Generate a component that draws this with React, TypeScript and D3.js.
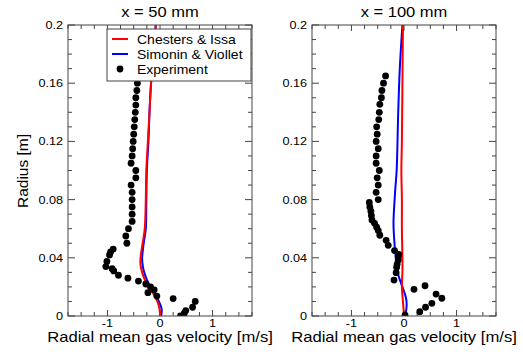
import React from "react";
import * as d3 from "d3";

// ---- data ----
const titles = ["x = 50 mm", "x = 100 mm"];
const xTickLabels = [-1, 0, 1];
const yTickLabels = [0, 0.04, 0.08, 0.12, 0.16, 0.2];
const legendLabels = ["Chesters & Issa", "Simonin & Viollet", "Experiment"];

// left panel (x = 50 mm): [velocity, radius]
const exp50: [number, number][] = [
  [-0.43, 0.160], [-0.44, 0.155], [-0.46, 0.150], [-0.46, 0.145], [-0.47, 0.140],
  [-0.48, 0.135], [-0.49, 0.130], [-0.50, 0.125], [-0.51, 0.120], [-0.52, 0.115],
  [-0.53, 0.110], [-0.55, 0.105], [-0.46, 0.100], [-0.46, 0.095], [-0.55, 0.090],
  [-0.53, 0.085], [-0.53, 0.080], [-0.53, 0.075], [-0.53, 0.070], [-0.53, 0.065],
  [-0.60, 0.060], [-0.65, 0.055], [-0.63, 0.050], [-0.89, 0.046], [-0.94, 0.044],
  [-0.96, 0.042], [-1.01, 0.0375], [-1.03, 0.034], [-0.91, 0.0325], [-0.88, 0.031],
  [-0.79, 0.028], [-0.61, 0.026], [-0.41, 0.024], [-0.27, 0.022], [-0.18, 0.020],
  [-0.11, 0.018], [-0.23, 0.016], [-0.06, 0.0137], [0.25, 0.012], [0.67, 0.010],
  [0.62, 0.006], [0.49, 0.0037], [0.46, 0.0018], [0.39, 0.0],
];
const chesters50: [number, number][] = [
  [-0.08, 0.2], [-0.17, 0.16], [-0.20, 0.14], [-0.23, 0.12], [-0.26, 0.10],
  [-0.27, 0.08], [-0.29, 0.06], [-0.33, 0.05], [-0.37, 0.04], [-0.37, 0.035],
  [-0.34, 0.03], [-0.29, 0.025], [-0.22, 0.02], [-0.12, 0.015], [-0.05, 0.01],
  [-0.01, 0.005], [0.0, 0.002], [0.0, 0.0],
];
const simonin50: [number, number][] = [
  [-0.08, 0.2], [-0.17, 0.16], [-0.20, 0.14], [-0.22, 0.12], [-0.25, 0.10],
  [-0.26, 0.08], [-0.27, 0.06], [-0.31, 0.05], [-0.34, 0.04], [-0.33, 0.035],
  [-0.30, 0.03], [-0.25, 0.025], [-0.18, 0.02], [-0.09, 0.015], [-0.02, 0.01],
  [0.03, 0.005], [0.03, 0.002], [0.02, 0.0],
];

// right panel (x = 100 mm)
const exp100: [number, number][] = [
  [-0.35, 0.165], [-0.39, 0.160], [-0.42, 0.155], [-0.43, 0.150], [-0.46, 0.1455],
  [-0.47, 0.140], [-0.48, 0.135], [-0.52, 0.130], [-0.51, 0.125], [-0.53, 0.120],
  [-0.49, 0.115], [-0.53, 0.110], [-0.53, 0.105], [-0.47, 0.100], [-0.51, 0.095],
  [-0.49, 0.090], [-0.53, 0.085], [-0.49, 0.080], [-0.66, 0.078], [-0.65, 0.075],
  [-0.63, 0.072], [-0.62, 0.069], [-0.61, 0.066], [-0.56, 0.0637], [-0.52, 0.061],
  [-0.49, 0.0587], [-0.46, 0.0555], [-0.34, 0.052], [-0.30, 0.0486], [-0.18, 0.045],
  [-0.10, 0.0424], [-0.11, 0.0408], [-0.11, 0.0385], [-0.13, 0.0357], [-0.14, 0.0335],
  [-0.15, 0.0298], [-0.19, 0.0247], [0.19, 0.0183], [0.40, 0.0208], [0.61, 0.0151],
  [0.72, 0.0122], [0.53, 0.0087], [0.41, 0.006], [0.30, 0.003], [0.02, 0.0005],
];
const chesters100: [number, number][] = [
  [-0.02, 0.2], [-0.03, 0.16], [-0.04, 0.12], [-0.05, 0.10], [-0.04, 0.08],
  [-0.04, 0.06], [-0.03, 0.04], [-0.03, 0.03], [-0.04, 0.02], [-0.02, 0.01],
  [-0.01, 0.005], [0.0, 0.0],
];
const simonin100: [number, number][] = [
  [-0.03, 0.2], [-0.08, 0.17], [-0.11, 0.14], [-0.14, 0.10], [-0.17, 0.085],
  [-0.20, 0.064], [-0.19, 0.055], [-0.17, 0.045], [-0.12, 0.03], [-0.08, 0.025],
  [-0.02, 0.019], [0.04, 0.012], [0.05, 0.007], [0.03, 0.002], [0.0, 0.0],
];

const panels = [
  { title: titles[0], exp: exp50, ci: chesters50, sv: simonin50, x0: 68, legend: true },
  { title: titles[1], exp: exp100, ci: chesters100, sv: simonin100, x0: 312, legend: false },
];

const W = 523, H = 358;
const PW = 184, top = 25, bottom = 316;
const FONT = "'Liberation Sans', Arial, sans-serif";
const RED = "#ff0000", BLUE = "#0000ff", AX = "#444";

function SText({ x, y, sx, children, ...rest }: any) {
  return (
    <text transform={`translate(${x},${y}) scale(${sx},1)`} fontFamily={FONT} {...rest}>{children}</text>
  );
}

function Panel({ p }: { p: typeof panels[0] }) {
  const x = d3.scaleLinear().domain([-1.75, 1.75]).range([p.x0, p.x0 + PW]);
  const y = d3.scaleLinear().domain([0, 0.2]).range([bottom, top]);
  const line = d3.line<[number, number]>().x(d => x(d[0])).y(d => y(d[1])).curve(d3.curveCatmullRom);
  const xMinor = d3.range(-7, 8).map(i => i * 0.25);
  const yMinor = d3.range(0, 21).map(i => i * 0.01);
  const x1 = p.x0 + PW;
  const clipId = "clip" + p.x0;
  return (
    <g>
      <defs>
        <clipPath id={clipId}><rect x={p.x0} y={top} width={PW} height={bottom - top} /></clipPath>
      </defs>
      <SText x={(p.x0 + x1) / 2} y={17} sx={1.18} textAnchor="middle" fontSize={14}>{p.title}</SText>
      {xMinor.map((v, i) => {
        const major = Number.isInteger(v);
        const l = major ? 6 : 4;
        return (
          <g key={"xt" + i} stroke={AX} strokeWidth={1}>
            <line x1={x(v)} x2={x(v)} y1={bottom} y2={bottom - l} />
            <line x1={x(v)} x2={x(v)} y1={top} y2={top + l} />
          </g>
        );
      })}
      {yMinor.map((v, i) => {
        const major = i % 4 === 0;
        const l = major ? 7 : 4;
        return (
          <g key={"yt" + i} stroke={AX} strokeWidth={1}>
            <line x1={p.x0} x2={p.x0 + l} y1={y(v)} y2={y(v)} />
            <line x1={x1} x2={x1 - l} y1={y(v)} y2={y(v)} />
          </g>
        );
      })}
      {xTickLabels.map(v => (
        <SText key={"xl" + v} x={x(v)} y={327} sx={1.15} textAnchor="middle" fontSize={11}>{v}</SText>
      ))}
      {yTickLabels.map(v => (
        <SText key={"yl" + v} x={p.x0 - 5} y={y(v) + 4} sx={1.15} textAnchor="end" fontSize={11}>{String(v)}</SText>
      ))}
      <SText x={(p.x0 + x1) / 2} y={341.5} sx={1.19} textAnchor="middle" fontSize={14}>Radial mean gas velocity [m/s]</SText>
      <g clipPath={`url(#${clipId})`}>
        <path d={line(p.sv) || ""} fill="none" stroke={BLUE} strokeWidth={2} />
        <path d={line(p.ci) || ""} fill="none" stroke={RED} strokeWidth={2} />
        {p.exp.map((d, i) => (
          <circle key={"e" + i} cx={x(d[0])} cy={y(d[1])} r={3.4} fill="#000" />
        ))}
      </g>
      <rect x={p.x0} y={top} width={PW} height={bottom - top} fill="none" stroke={AX} strokeWidth={1} />
      {p.legend && (
        <g>
          <rect x={107} y={29} width={144} height={52} fill="#fff" stroke={AX} strokeWidth={1} />
          <line x1={112} x2={128} y1={39} y2={39} stroke={RED} strokeWidth={2} />
          <line x1={112} x2={128} y1={54} y2={54} stroke={BLUE} strokeWidth={2} />
          <circle cx={120} cy={69} r={3.4} fill="#000" />
          {legendLabels.map((t, i) => (
            <SText key={t} x={137} y={44 + i * 15} sx={1.12} fontSize={12.5}>{t}</SText>
          ))}
        </g>
      )}
    </g>
  );
}

export default function App() {
  return (
    <svg width={W} height={H} style={{ position: "absolute", left: 0, top: 0, background: "#fff" }}>
      <rect width={W} height={H} fill="#fff" />
      <text transform="translate(28,171) rotate(-90)" textAnchor="middle" fontSize={15.5} fontFamily={FONT}>Radius [m]</text>
      {panels.map(p => <Panel key={p.x0} p={p} />)}
    </svg>
  );
}
